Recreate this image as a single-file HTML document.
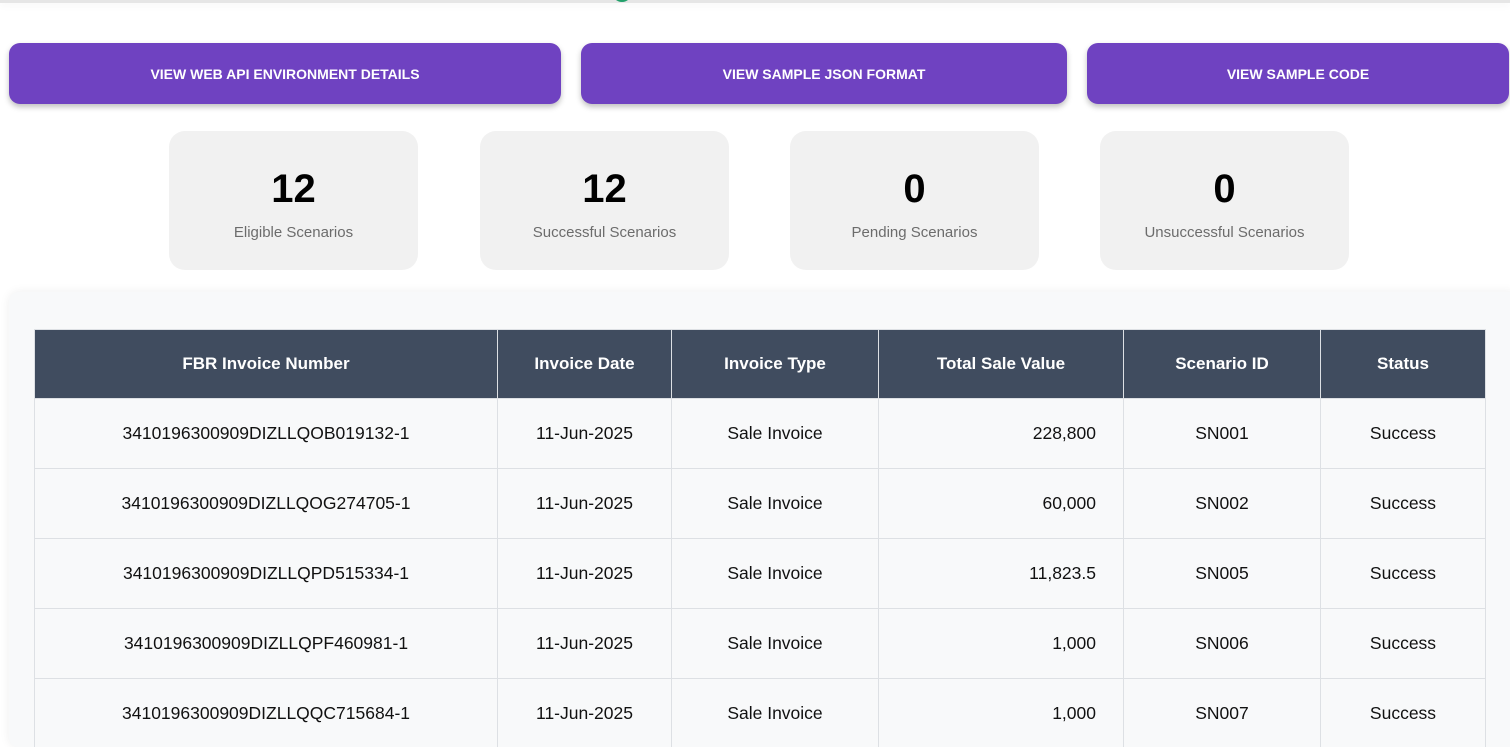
<!DOCTYPE html>
<html style="width:1510px;height:747px;overflow:hidden"><head><style>
*{box-sizing:border-box;margin:0;padding:0}
html,body{width:1510px;height:747px;overflow:hidden}
body{background:#fff;font-family:"Liberation Sans",sans-serif;position:relative}
.topbar{position:absolute;left:0;top:0;width:1510px;height:3px;background:#e6e6e6;box-shadow:0 2px 8px rgba(0,0,0,.06)}
.dot{position:absolute;left:612px;top:-18px;width:20px;height:20px;border-radius:50%;background:#22a06b}
.btn{position:absolute;top:43px;height:61px;background:#6f42c1;border-radius:11px;color:#fff;font-weight:bold;font-size:14px;display:flex;align-items:center;justify-content:center;box-shadow:0 3px 6px rgba(0,0,0,.25)}
.stat{position:absolute;top:131px;width:249px;height:139px;background:#f1f1f1;border-radius:16px;text-align:center}
.stat b{display:block;font-size:40px;margin-top:36px;color:#000}
.stat span{display:block;font-size:15px;color:#6c6c6c;margin-top:12px}
.card{position:absolute;left:9px;top:292px;width:1510px;height:455px;background:#f8f9fa;border-radius:10px;box-shadow:0 0 10px rgba(0,0,0,.07)}
table{position:absolute;left:34px;top:329px;border-collapse:collapse;width:1451px;table-layout:fixed}
th{background:#404c5f;color:#fff;font-size:17px;height:69px;border:1px solid #dde0e4;font-weight:bold}
td{height:70px;border:1px solid #dde0e4;text-align:center;font-size:17.5px;color:#111;background:#f8f9fa}
td.r{text-align:right;padding-right:27px}
</style></head><body>
<div class="topbar"></div><div class="dot"></div>
<div class="btn" style="left:9px;width:552px">VIEW WEB API ENVIRONMENT DETAILS</div>
<div class="btn" style="left:581px;width:486px">VIEW SAMPLE JSON FORMAT</div>
<div class="btn" style="left:1087px;width:422px">VIEW SAMPLE CODE</div>
<div class="stat" style="left:169px"><b>12</b><span>Eligible Scenarios</span></div>
<div class="stat" style="left:480px"><b>12</b><span>Successful Scenarios</span></div>
<div class="stat" style="left:790px"><b>0</b><span>Pending Scenarios</span></div>
<div class="stat" style="left:1100px"><b>0</b><span>Unsuccessful Scenarios</span></div>
<div class="card"></div>
<table>
<colgroup><col style="width:463px"><col style="width:174px"><col style="width:207px"><col style="width:245px"><col style="width:197px"><col style="width:165px"></colgroup>
<tr><th>FBR Invoice Number</th><th>Invoice Date</th><th>Invoice Type</th><th>Total Sale Value</th><th>Scenario ID</th><th>Status</th></tr>
<tr><td>3410196300909DIZLLQOB019132-1</td><td>11-Jun-2025</td><td>Sale Invoice</td><td class="r">228,800</td><td>SN001</td><td>Success</td></tr>
<tr><td>3410196300909DIZLLQOG274705-1</td><td>11-Jun-2025</td><td>Sale Invoice</td><td class="r">60,000</td><td>SN002</td><td>Success</td></tr>
<tr><td>3410196300909DIZLLQPD515334-1</td><td>11-Jun-2025</td><td>Sale Invoice</td><td class="r">11,823.5</td><td>SN005</td><td>Success</td></tr>
<tr><td>3410196300909DIZLLQPF460981-1</td><td>11-Jun-2025</td><td>Sale Invoice</td><td class="r">1,000</td><td>SN006</td><td>Success</td></tr>
<tr><td>3410196300909DIZLLQQC715684-1</td><td>11-Jun-2025</td><td>Sale Invoice</td><td class="r">1,000</td><td>SN007</td><td>Success</td></tr>
</table>
</body></html>
